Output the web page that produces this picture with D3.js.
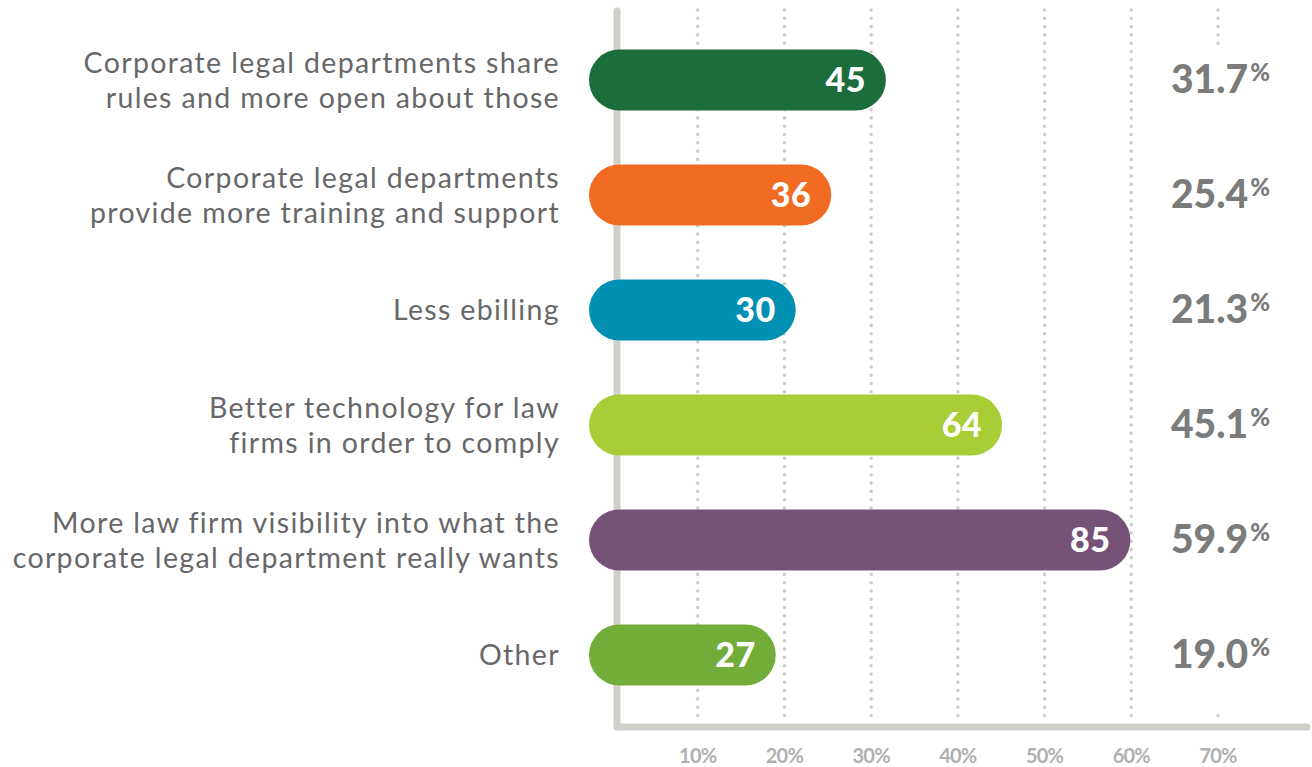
<!DOCTYPE html>
<html>
<head>
<meta charset="utf-8">
<script src="https://cdn.jsdelivr.net/npm/d3@7"></script>
<style>
  html, body { margin: 0; padding: 0; background: #ffffff; }
  svg { display: block; }
</style>
</head>
<body>
<svg id="chart" width="1312" height="767"></svg>
<script>
// Survey responses: what would improve compliance with billing guidelines
const categories = [
  ["Corporate legal departments share", "rules and more open about those"],
  ["Corporate legal departments", "provide more training and support"],
  ["Less ebilling"],
  ["Better technology for law", "firms in order to comply"],
  ["More law firm visibility into what the", "corporate legal department really wants"],
  ["Other"]
];
const counts = [45, 36, 30, 64, 85, 27];
const percents = [31.7, 25.4, 21.3, 45.1, 59.9, 19.0];
const barColors = ["#1b6e3b", "#f26b22", "#0090b1", "#a9cd36", "#775278", "#72ad3a"];
const tickValues = [10, 20, 30, 40, 50, 60, 70];

const svg = d3.select("#chart");
const W = 1312, H = 767;

const x = d3.scaleLinear().domain([0, 70]).range([611, 1218]);
const y = d3.scaleBand()
  .domain(d3.range(categories.length))
  .range([22.5, 712.5])
  .paddingInner(0.47)
  .paddingOuter(0.235);

const axisColor = "#d0d0cb";
const gridColor = "#cdcdcd";
const gridTop = 10, gridBottom = 721, axisY = 727;

// dotted vertical gridlines
svg.append("g").selectAll("line")
  .data(tickValues)
  .join("line")
  .attr("x1", d => x(d)).attr("x2", d => x(d))
  .attr("y1", gridTop).attr("y2", gridBottom)
  .attr("stroke", gridColor)
  .attr("stroke-width", 3.6)
  .attr("stroke-linecap", "round")
  .attr("stroke-dasharray", "0 8.3");

// white panel behind the percentage column
const firstBand = y(0), lastBand = y(categories.length - 1) + y.bandwidth();
svg.append("rect")
  .attr("x", 1146).attr("y", firstBand - 4)
  .attr("width", W - 1146).attr("height", lastBand - firstBand + 32)
  .attr("fill", "#ffffff");

// axis lines
svg.append("line")
  .attr("x1", 617).attr("x2", 617)
  .attr("y1", 11).attr("y2", axisY)
  .attr("stroke", axisColor).attr("stroke-width", 7).attr("stroke-linecap", "round");
svg.append("line")
  .attr("x1", 617).attr("x2", 1307)
  .attr("y1", axisY).attr("y2", axisY)
  .attr("stroke", axisColor).attr("stroke-width", 7).attr("stroke-linecap", "round");

// tick labels
svg.append("g").selectAll("text")
  .data(tickValues)
  .join("text")
  .attr("x", d => x(d))
  .attr("y", 763)
  .attr("text-anchor", "middle")
  .attr("font-family", "Lato, sans-serif")
  .attr("font-size", 20)
  .attr("font-weight", 700)
  .attr("letter-spacing", -0.8)
  .attr("fill", "#b0b0b0")
  .text(d => d + "%");

// pill-shaped bars
const capOffset = 22;
const bh = y.bandwidth();
const rows = svg.append("g").selectAll("g")
  .data(d3.range(categories.length))
  .join("g");

rows.append("rect")
  .attr("x", x(0) - capOffset)
  .attr("y", i => y(i))
  .attr("width", i => x(percents[i]) - x(0) + capOffset)
  .attr("height", bh)
  .attr("rx", bh / 2).attr("ry", bh / 2)
  .attr("fill", i => barColors[i]);

// respondent counts inside bars
rows.append("text")
  .attr("x", i => x(percents[i]) - 20)
  .attr("y", i => y(i) + bh / 2 + 12)
  .attr("text-anchor", "end")
  .attr("font-family", "Lato, sans-serif")
  .attr("font-size", 34)
  .attr("font-weight", 900)
  .attr("letter-spacing", 0.5)
  .attr("fill", "#ffffff")
  .text(i => counts[i]);

// percentage labels
const pct = rows.append("text")
  .attr("x", 1171)
  .attr("y", i => y(i) + bh / 2 + 13)
  .attr("font-family", "Lato, sans-serif")
  .attr("font-weight", 900)
  .attr("fill", "#7b7b7b");
pct.append("tspan")
  .attr("font-size", 39)
  .text(i => percents[i].toFixed(1));
pct.append("tspan")
  .attr("font-size", 24)
  .attr("dx", 2)
  .attr("dy", -12)
  .text("%");

// category labels
const lineH = 35;
rows.append("text")
  .attr("text-anchor", "end")
  .attr("font-family", "Lato, sans-serif")
  .attr("font-size", 28.5)
  .attr("letter-spacing", 1.35)
  .attr("fill", "#67676a")
  .each(function (i) {
    const lines = categories[i];
    const cy = y(i) + bh / 2;
    const first = cy + 10 - (lines.length - 1) * lineH / 2;
    d3.select(this).selectAll("tspan")
      .data(lines)
      .join("tspan")
      .attr("x", 560)
      .attr("y", (d, k) => first + k * lineH)
      .text(d => d);
  });
</script>
</body>
</html>
